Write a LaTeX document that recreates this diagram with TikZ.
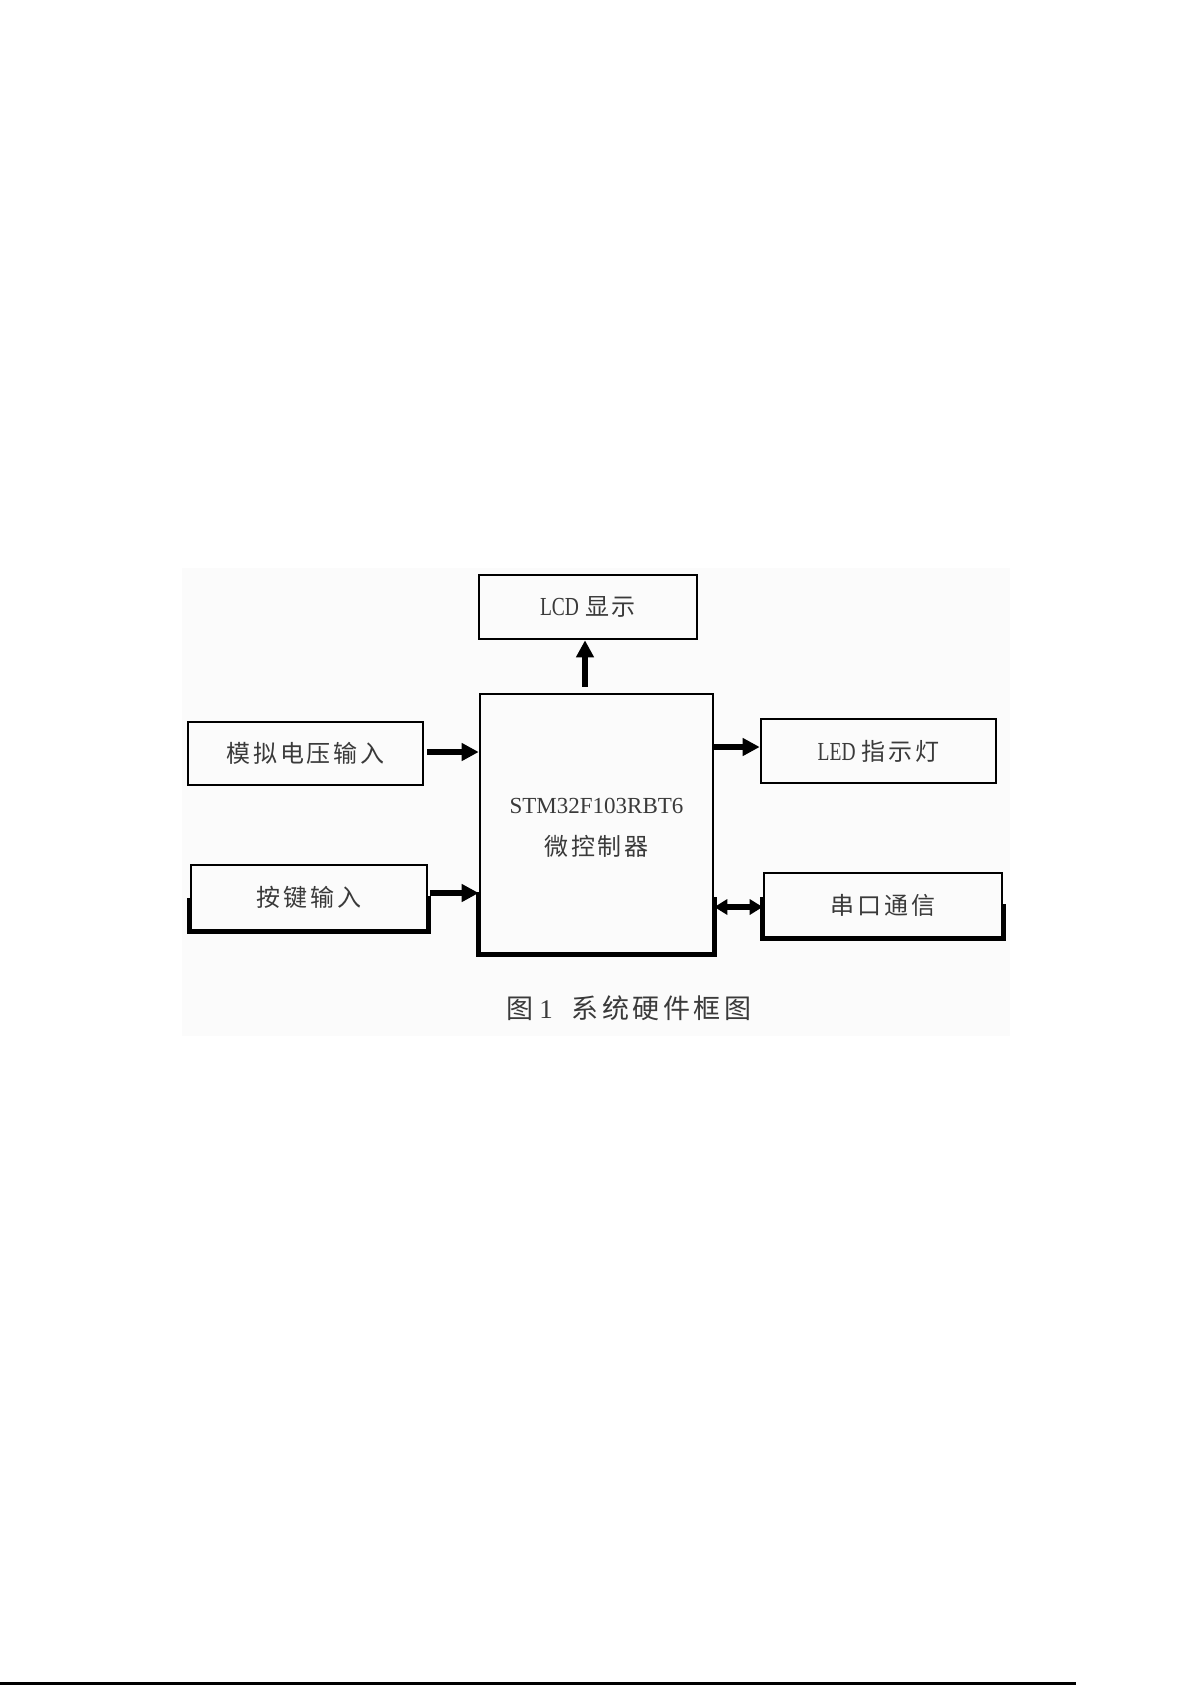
\documentclass[tikz,border=0pt]{standalone}
\usepackage{fontspec}
\setmainfont{Liberation Serif}
\newfontfamily\cjk[LetterSpace=12]{Noto Sans CJK SC}
\newfontfamily\cjkcap[LetterSpace=13]{Noto Sans CJK SC}
\newfontfamily\latn[FakeStretch=0.75]{Liberation Serif}
\usetikzlibrary{arrows.meta}
\definecolor{txt}{HTML}{3A3A3A}
\definecolor{bgpaper}{RGB}{251,251,251}
\tikzset{
  box/.style={draw=black, line width=1.3pt, rectangle, inner sep=0pt, text=txt,
    font=\fontsize{12pt}{14pt}\selectfont},
  arr/.style={line width=2.6pt, -{Triangle[length=8.5pt,width=8.5pt]}},
  darr/.style={line width=2.6pt, {Triangle[length=6.5pt,width=7.5pt]}-{Triangle[length=6.5pt,width=7.5pt]}},
  heavy/.style={line width=2.4pt, line cap=rect, line join=miter}
}
\begin{document}
\begin{tikzpicture}[x=0.5pt,y=-0.5pt]
\useasboundingbox (0,0) rectangle (1192,1685);
\fill[bgpaper] (182,568) rectangle (1010,1036);

\node[box, minimum width=109pt, minimum height=32pt] (lcd) at (588,607) {{\latn\fontsize{13pt}{15pt}\selectfont LCD} {\cjk 显示}};
\node[box, minimum width=116.5pt, minimum height=129.5pt, align=center,
  font=\fontsize{11.5pt}{21pt}\selectfont] (mcu) at (596.5,823.5)
  {\raisebox{-2pt}[\height][\depth]{STM32F103RBT6}\\\raisebox{-2pt}[\height][\depth]{\cjk\fontsize{12pt}{21pt}\selectfont 微控制器}};
\node[box, minimum width=117.5pt, minimum height=31.5pt] (adc) at (305.5,753.5) {\cjk 模拟电压输入};
\node[box, minimum width=118pt, minimum height=32.5pt] (key) at (309,897.5) {\cjk 按键输入};
\node[box, minimum width=117.5pt, minimum height=32pt] (led) at (878.5,751) {{\latn\fontsize{13pt}{15pt}\selectfont LED} {\cjk 指示灯}};
\node[box, minimum width=119pt, minimum height=32pt] (uart) at (883,905) {\cjk 串口通信};

\node[text=txt, inner sep=0pt, anchor=west, font=\fontsize{13.5pt}{16pt}\selectfont] (cap) at (506,1008)
  {{\cjkcap 图}\hspace{3pt}1\hspace{9.5pt}{\cjkcap 系统硬件框图}};

% connectors
\coordinate (lcdin) at ([xshift=-1.5pt]lcd.south);
\coordinate (lcdout) at (lcdin |- mcu.north);
\draw[arr] ([yshift=3pt]lcdout) -- (lcdin);

\coordinate (a1) at ([yshift=0.75pt]adc.east);
\draw[arr] ([xshift=1.5pt]a1) -- (a1 -| mcu.west);

\coordinate (k1) at ([yshift=2.25pt]key.east);
\draw[arr] ([xshift=1pt]k1) -- (k1 -| mcu.west);

\coordinate (l1) at ([yshift=2pt]led.west);
\draw[arr] (l1 -| mcu.east) -- (l1);

\coordinate (u1) at ([yshift=-1pt]uart.west);
\draw[darr] (u1 -| mcu.east) -- (u1);

% heavier scanned edges
\draw[heavy] ([yshift=30pt]mcu.south west) -- (mcu.south west) -- (mcu.south east) -- ([yshift=27.5pt]mcu.south east);
\draw[heavy] ([yshift=15.5pt]key.south west) -- (key.south west) -- (key.south east) -- ([yshift=16.5pt]key.south east);
\draw[heavy] ([yshift=19.5pt]uart.south west) -- (uart.south west) -- (uart.south east) -- ([yshift=16pt]uart.south east);

% page edge line
\draw[line width=1.2pt] (0,1683.5) -- (1076,1683.5);
\end{tikzpicture}
\end{document}
